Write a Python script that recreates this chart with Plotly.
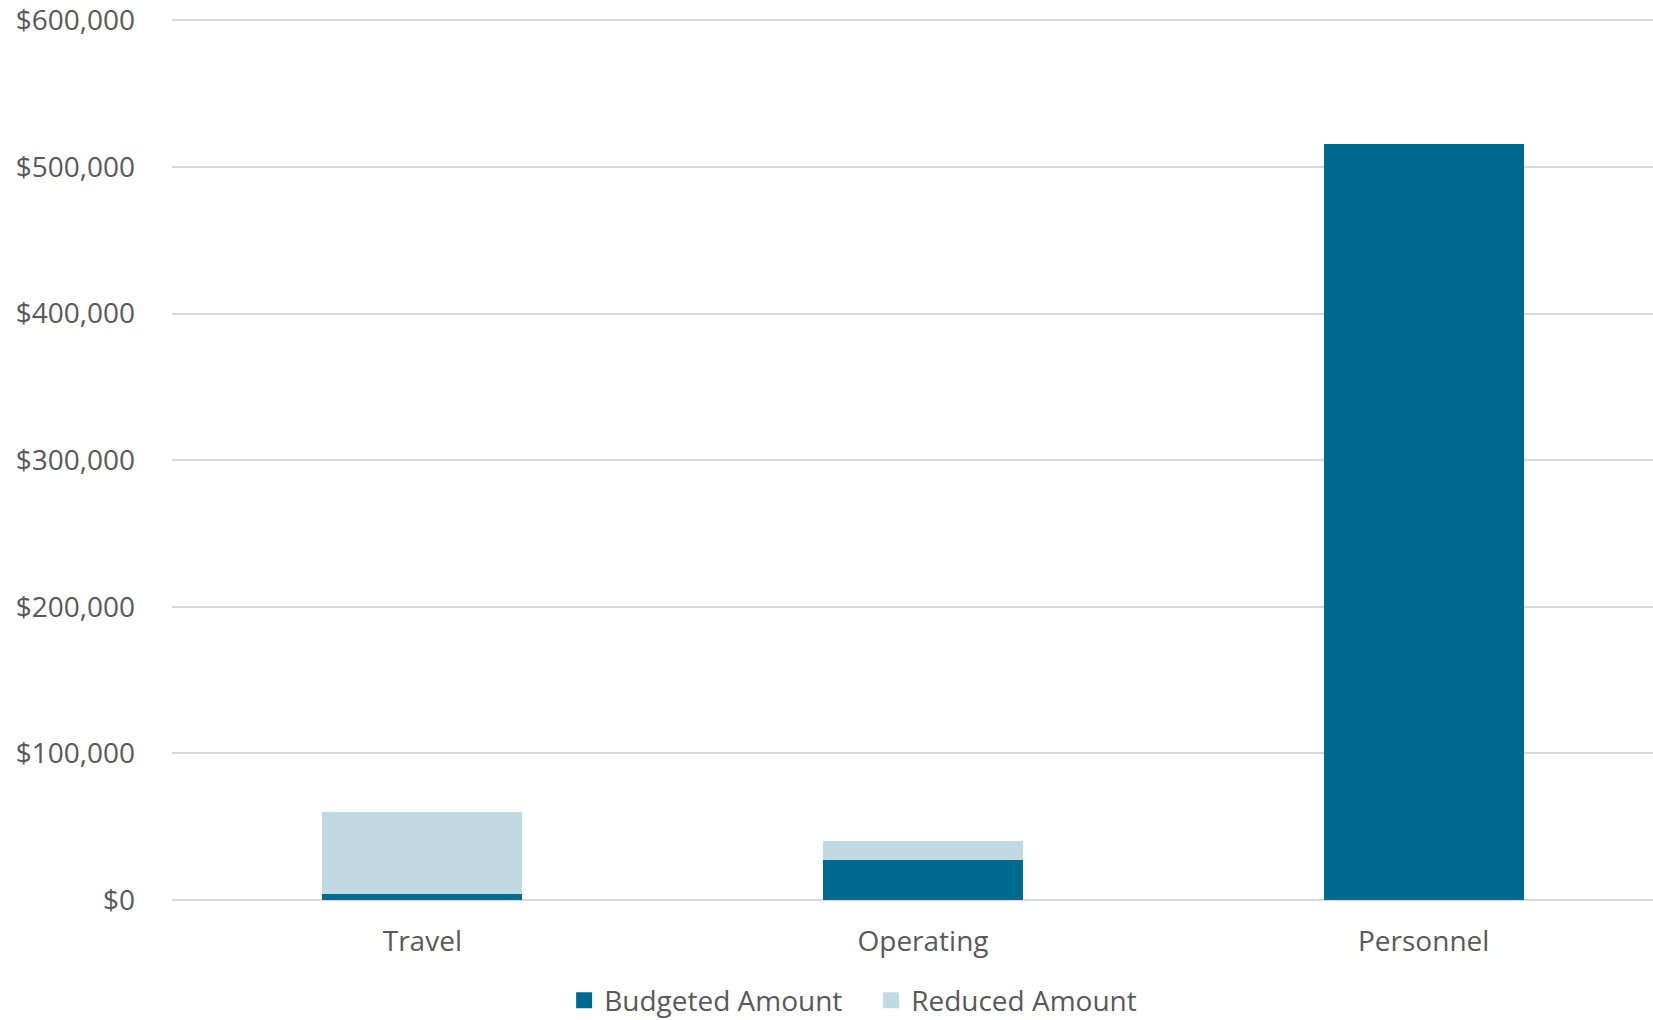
import plotly.graph_objects as go

categories = ["Travel", "Operating", "Personnel"]
budgeted = [4000, 27500, 516000]
reduced = [56000, 13000, 0]
y_ticks = [0, 100000, 200000, 300000, 400000, 500000, 600000]
y_tick_labels = ["$0", "$100,000", "$200,000", "$300,000", "$400,000", "$500,000", "$600,000"]

FONT = "Open Sans"
TXT = "#595959"
C_BUD = "#006990"
C_RED = "#C0D9E2"

fig = go.Figure()
fig.add_trace(go.Bar(x=categories, y=budgeted, name="Budgeted Amount",
                     marker=dict(color=C_BUD, line=dict(width=0)), width=0.4,
                     showlegend=False))
fig.add_trace(go.Bar(x=categories, y=reduced, name="Reduced Amount",
                     marker=dict(color=C_RED, line=dict(width=0)), width=0.4,
                     showlegend=False))
# legend entries with larger square symbols
fig.add_trace(go.Scatter(x=[None], y=[None], mode="markers", name="Budgeted Amount",
                         marker=dict(symbol="square", size=18, color=C_BUD)))
fig.add_trace(go.Scatter(x=[None], y=[None], mode="markers", name="Reduced Amount",
                         marker=dict(symbol="square", size=18, color=C_RED)))

fig.update_layout(
    barmode="stack",
    width=1653, height=1020,
    margin=dict(l=172, r=0, t=19, b=120, autoexpand=False),
    plot_bgcolor="white", paper_bgcolor="white",
    font=dict(family=FONT, size=28, color=TXT),
    legend=dict(orientation="h", xref="container", yref="container",
                x=0.527, xanchor="center", y=0.019, yanchor="middle",
                font=dict(family=FONT, size=28, color=TXT), itemwidth=30,
                entrywidth=262, entrywidthmode="pixels",
                traceorder="normal"),
    xaxis=dict(range=[-0.5, 2.458], showgrid=False, showline=False, ticks="",
               tickfont=dict(family=FONT, size=28, color=TXT), ticklabelstandoff=22,
               automargin=False, fixedrange=True),
    yaxis=dict(range=[0, 601000], tickvals=y_ticks, ticktext=y_tick_labels,
               showgrid=True, gridcolor="#D9D9D9", gridwidth=1.5, zeroline=True,
               zerolinecolor="#D9D9D9", zerolinewidth=1.5, showline=False, ticks="",
               tickfont=dict(family=FONT, size=28, color=TXT), ticklabelstandoff=36,
               ticklabeloverflow="allow", automargin=False, fixedrange=True),
    bargap=0.6,
)

fig.write_html("out.html", config={"displayModeBar": False},
               post_script="document.body.style.margin='0px';document.body.style.overflow='hidden';")
